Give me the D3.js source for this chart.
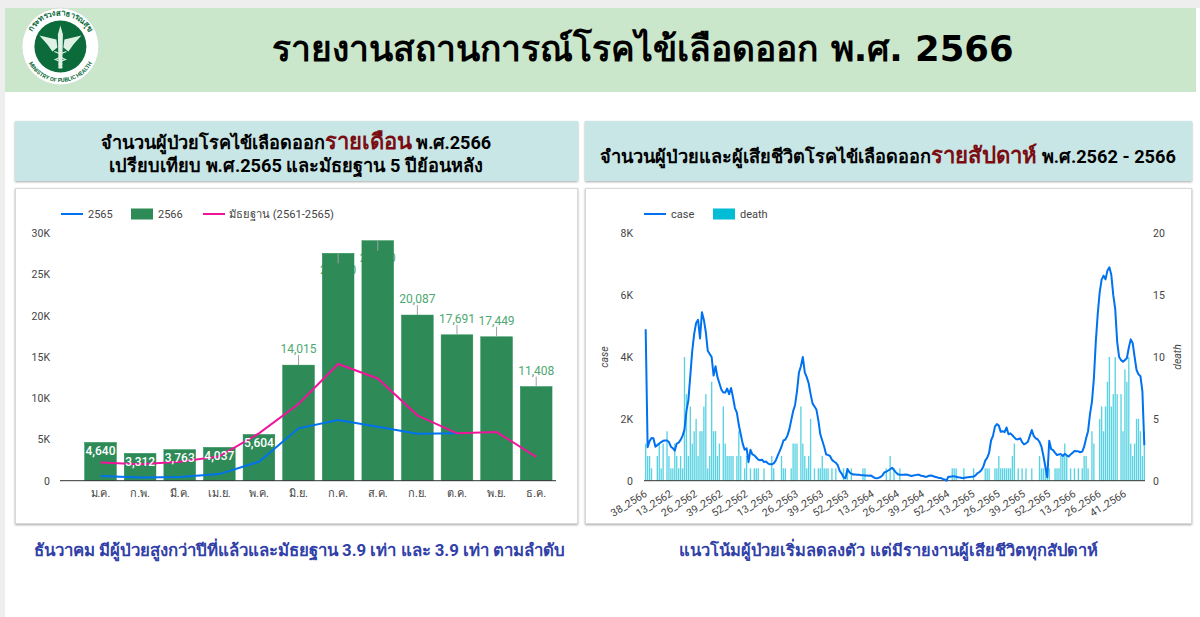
<!DOCTYPE html>
<html>
<head>
<meta charset="utf-8">
<script src="https://cdn.jsdelivr.net/npm/d3@7"></script>
<style>
html,body{margin:0;padding:0;background:#fff;overflow:hidden}
svg{display:block}
text{font-family:Roboto,"Noto Sans",sans-serif}
</style>
</head>
<body>
<div id="canvas"></div>
<script>
// monthly chart
const months = ["ม.ค.","ก.พ.","มี.ค.","เม.ย.","พ.ค.","มิ.ย.","ก.ค.","ส.ค.","ก.ย.","ต.ค.","พ.ย.","ธ.ค."];
const cases2566 = [4640,3312,3763,4037,5604,14015,27570,29100,20087,17691,17449,11408];
const cases2565 = [570,400,450,800,2300,6350,7360,6550,5700,5750,null,null];
const median = [2220,1980,2300,2950,5740,9300,14150,12400,7930,5740,5900,2900];
const monthTicks = [0,5000,10000,15000,20000,25000,30000];

// weekly chart, index 0 is the stray 38_2566 row the source sorts first
const weekCase = [4900,1080,1280,1380,1370,1100,1150,1200,1250,1290,1300,1300,1250,1100,1050,970,1200,1230,1320,1450,
1650,2250,2600,3400,4200,4750,5100,5200,4600,5450,5200,4800,4200,4100,4000,3400,3700,3350,3150,2950,
2850,2850,2980,2800,3000,2700,2350,2200,1800,1500,1200,1000,1050,600,1000,850,820,750,680,660,
680,600,620,560,530,530,560,650,800,950,1100,1300,1330,1450,1650,1950,2250,2450,2900,3500,
3700,4000,3500,3350,3150,2800,2500,2400,2300,1950,1500,1300,1100,850,830,800,680,620,580,500,
320,230,110,80,380,270,230,200,200,190,190,180,180,170,170,160,170,130,90,80,
90,120,170,270,290,330,370,420,340,270,210,190,190,190,200,190,170,150,170,180,
190,190,160,150,130,130,160,170,150,130,110,90,90,60,40,0,130,130,140,140,
130,110,100,90,90,100,110,120,130,130,170,240,280,340,450,650,740,900,1300,1450,
1750,1830,1780,1580,1600,1570,1720,1500,1530,1470,1400,1340,1340,1370,1250,1175,1210,1260,1450,1640,
1450,1370,1340,1250,1100,800,450,110,1290,1020,990,900,830,850,860,800,870,820,780,850,
900,960,950,950,920,940,1100,1370,1600,2150,2550,3300,4500,5400,6100,6500,6630,6510,6800,6900,
6650,6000,5550,4500,4000,3900,3850,3900,3960,4300,4570,4450,4000,3580,3440,3380,2900,1150];
const weekDeath = [3,2,2,1,0,0,2,3,1,3,0,4,2,1,1,3,2,1,2,1,
10,7,2,6,3,4,5,2,4,4,6,7,1,2,8,4,4,2,3,0,
6,3,2,2,2,2,0,2,4,2,0,1,2,0,1,0,1,1,1,0,
0,1,0,0,0,2,1,0,0,0,2,1,1,0,0,1,3,3,3,0,
6,3,2,1,2,5,0,1,0,1,1,2,1,1,1,0,1,0,1,0,
0,0,1,0,1,0,1,0,0,0,0,0,1,1,0,0,0,0,0,0,
0,0,0,0,1,0,2,0,1,0,0,1,0,0,0,0,0,0,0,0,
0,0,0,0,0,0,0,0,0,0,0,0,0,0,0,0,0,0,1,1,
1,0,0,0,1,0,0,0,0,1,0,0,0,0,0,1,1,1,0,0,
1,1,2,1,1,1,1,1,1,2,3,0,1,0,1,0,1,0,0,1,
0,0,0,2,1,1,1,1,1,0,0,1,1,1,2,2,3,2,0,1,
0,1,0,1,0,1,2,2,1,0,4,3,0,0,5,6,4,6,8,10,
6,7,10,7,0,7,4,9,8,10,3,2,3,5,5,4,2,4];
// tick labels as printed under the axis, one every 13 rows
const weekTickIndex = [0,13,26,39,52,65,78,91,104,117,130,143,156,169,182,195,208,221,234,247];
const weekTickLabel = ["38_2566","13_2562","26_2562","39_2562","52_2562","13_2563","26_2563","39_2563","52_2563","13_2564","26_2564","39_2564","52_2564","13_2565","26_2565","39_2565","52_2565","13_2566","26_2566","41_2566"];
const caseTicks = [0,2000,4000,6000,8000];
const deathTicks = [0,5,10,15,20];

const thai = 'Roboto,"Noto Sans",sans-serif';
const titleFont = '"DejaVu Sans",Roboto,sans-serif';
const fmtK = d => d === 0 ? "0" : (d / 1000) + "K";
const fmtN = d3.format(",");

const svg = d3.select("#canvas").append("svg").attr("width",1200).attr("height",617);
const defs = svg.append("defs");
const shadow = defs.append("filter").attr("id","sh").attr("x","-2%").attr("y","-5%").attr("width","104%").attr("height","112%");
shadow.append("feDropShadow").attr("dx",0).attr("dy",1).attr("stdDeviation",1).attr("flood-color","#000").attr("flood-opacity",0.35);

// page
svg.append("rect").attr("width",1200).attr("height",617).attr("fill","#eeeeee");
svg.append("rect").attr("x",5).attr("y",8).attr("width",1195).attr("height",609).attr("fill","#ffffff");
svg.append("rect").attr("x",5).attr("y",8).attr("width",1191).attr("height",84).attr("fill","#cbe7cb");
svg.append("text").attr("x",643).attr("y",60.5).attr("text-anchor","middle").attr("font-size",35.4).attr("font-weight",700)
    .style("font-family",titleFont).attr("fill","#000").text("รายงานสถานการณ์โรคไข้เลือดออก พ.ศ. 2566");

// header boxes
function headBox(x, w) {
    svg.append("rect").attr("x",x).attr("y",121).attr("width",w).attr("height",60).attr("fill","#c8e6e6").attr("filter","url(#sh)");
}
headBox(15,563);
headBox(585,607);
function card(x, w) {
    svg.append("rect").attr("x",x).attr("y",188.5).attr("width",w).attr("height",335).attr("fill","#fff").attr("stroke","#d9d9d9").attr("filter","url(#sh)");
}
card(15.5,562);
card(585.5,606);

const h1 = svg.append("text").attr("x",296).attr("y",149).attr("text-anchor","middle").attr("font-size",18.1).attr("font-weight",700).style("font-family",thai);
h1.append("tspan").text("จำนวนผู้ป่วยโรคไข้เลือดออก");
h1.append("tspan").attr("fill","#7b0d12").attr("font-size",22).text("รายเดือน");
h1.append("tspan").text(" พ.ศ.2566");
svg.append("text").attr("x",296).attr("y",172).attr("text-anchor","middle").attr("font-size",18.2).attr("font-weight",700).style("font-family",thai)
    .text("เปรียบเทียบ พ.ศ.2565 และมัธยฐาน 5 ปีย้อนหลัง");
const h2 = svg.append("text").attr("x",888).attr("y",163).attr("text-anchor","middle").attr("font-size",18.2).attr("font-weight",700).style("font-family",thai);
h2.append("tspan").text("จำนวนผู้ป่วยและผู้เสียชีวิตโรคไข้เลือดออก");
h2.append("tspan").attr("fill","#7b0d12").attr("font-size",22.2).text("รายสัปดาห์");
h2.append("tspan").text(" พ.ศ.2562 - 2566");

svg.append("text").attr("x",299.5).attr("y",556).attr("text-anchor","middle").attr("font-size",16.8).attr("font-weight",700).attr("fill","#3040a8").style("font-family",thai)
    .text("ธันวาคม มีผู้ป่วยสูงกว่าปีที่แล้วและมัธยฐาน 3.9 เท่า และ 3.9 เท่า ตามลำดับ");
svg.append("text").attr("x",888.5).attr("y",556).attr("text-anchor","middle").attr("font-size",16.45).attr("font-weight",700).attr("fill","#3040a8").style("font-family",thai)
    .text("แนวโน้มผู้ป่วยเริ่มลดลงตัว แต่มีรายงานผู้เสียชีวิตทุกสัปดาห์");

// logo, hand drawn approximation
const logo = svg.append("g").attr("transform","translate(60.4,46.5)");
logo.append("circle").attr("r",38.5).attr("fill","#fff").attr("stroke","#cfe3d6");
logo.append("circle").attr("r",26).attr("fill","#0b6b3a");
defs.append("path").attr("id","arcTop").attr("d","M -30 12 A 32 32 0 1 1 30 12");
defs.append("path").attr("id","arcBot").attr("d","M -35 8 A 36 36 0 0 0 35 8");
logo.append("text").attr("font-size",8).attr("font-weight",700).attr("fill","#0b6b3a").style("font-family",thai)
    .append("textPath").attr("href","#arcTop").attr("startOffset","50%").attr("text-anchor","middle").text("กระทรวงสาธารณสุข");
logo.append("text").attr("font-size",5.6).attr("font-weight",700).attr("fill","#0b6b3a")
    .append("textPath").attr("href","#arcBot").attr("startOffset","50%").attr("text-anchor","middle").text("MINISTRY OF PUBLIC HEALTH");
logo.append("path").attr("d","M0 -21 L2.5 -12 L1.8 22 L-1.8 22 L-2.5 -12 Z").attr("fill","#dff0e4");
logo.append("path").attr("d","M-21 -11 L-4 -7 L-3 1 L-8 5 L-13 -2 Z M21 -11 L4 -7 L3 1 L8 5 L13 -2 Z").attr("fill","#dff0e4");
logo.append("path").attr("d","M-6 5 Q6 9 -5 13 Q6 17 -2 21 M6 5 Q-6 9 5 13 Q-6 17 2 21").attr("fill","none").attr("stroke","#dff0e4").attr("stroke-width",1.2);

// --- left chart ---
const x1 = d3.scaleBand().domain(months).range([80.7,556]).paddingInner(0.2).paddingOuter(0.1);
const y1 = d3.scaleLinear().domain([0,30000]).range([480.7,233.3]);
const g1 = svg.append("g");

// July and August labels fall behind their own bars in the source, only the edges show
cases2566.forEach((v,i) => {
    if (i !== 6 && i !== 7) return;
    g1.append("text").attr("x",x1(months[i]) + x1.bandwidth()/2).attr("y",y1(v) + 21).attr("text-anchor","middle").attr("font-size",12).attr("fill","#4da871").text(fmtN(v));
});

g1.selectAll("rect.bar").data(cases2566).enter().append("rect").attr("class","bar")
    .attr("x",(d,i) => x1(months[i])).attr("y",d => y1(d)).attr("width",x1.bandwidth()).attr("height",d => y1(0) - y1(d))
    .attr("fill","#2e8b57").attr("stroke","#1f8a50").attr("stroke-width",0.5);

const ya = g1.append("g").attr("transform","translate(50,0)").call(d3.axisLeft(y1).tickValues(monthTicks).tickFormat(fmtK).tickSize(0).tickPadding(0));
ya.select(".domain").remove();
ya.selectAll("text").attr("font-size",10.5).attr("fill","#444").style("font-family","Roboto");

const xa = g1.append("g").attr("transform","translate(0,480.7)").call(d3.axisBottom(x1).tickSize(0).tickPadding(9));
xa.select(".domain").remove();
xa.selectAll("text").attr("font-size",11).attr("fill","#444").style("font-family",thai);
g1.append("line").attr("x1",60).attr("x2",556).attr("y1",y1(0)).attr("y2",y1(0)).attr("stroke","#333").attr("stroke-width",1);

const line1 = d3.line().defined(d => d !== null).x((d,i) => x1(months[i]) + x1.bandwidth()/2).y(d => y1(d));
g1.append("path").attr("d",line1(cases2565)).attr("fill","none").attr("stroke","#0072f0").attr("stroke-width",2);
g1.append("path").attr("d",line1(median)).attr("fill","none").attr("stroke","#f0149b").attr("stroke-width",2);

// data labels, the first five sit inside the bar, the rest hang on a leader
cases2566.forEach((v,i) => {
    const cx = x1(months[i]) + x1.bandwidth()/2, top = y1(v);
    if (i < 5) {
        g1.append("text").attr("x",cx).attr("y",top + 12.5).attr("text-anchor","middle").attr("font-size",12).attr("font-weight",500).attr("fill","#fff").text(fmtN(v));
        return;
    }
    const inside = i === 6 || i === 7;
    g1.append("line").attr("x1",cx).attr("x2",cx).attr("y1",top).attr("y2",inside ? top + 10 : top - 10).attr("stroke","#a0a0a0");
    if (!inside) g1.append("text").attr("x",cx).attr("y",top - 12).attr("text-anchor","middle").attr("font-size",12).attr("fill","#4da871").text(fmtN(v));
});

// legend left
const lg1 = svg.append("g").attr("font-size",11).attr("fill","#444");
lg1.append("line").attr("x1",61).attr("x2",83).attr("y1",214).attr("y2",214).attr("stroke","#0072f0").attr("stroke-width",2);
lg1.append("text").attr("x",88).attr("y",218).text("2565");
lg1.append("rect").attr("x",131).attr("y",208.5).attr("width",22).attr("height",11).attr("fill","#2e8b57");
lg1.append("text").attr("x",158).attr("y",218).text("2566");
lg1.append("line").attr("x1",203).attr("x2",225).attr("y1",214).attr("y2",214).attr("stroke","#f0149b").attr("stroke-width",2);
lg1.append("text").attr("x",229).attr("y",218).attr("font-size",11.2).style("font-family",thai).text("มัธยฐาน (2561-2565)");

// --- right chart ---
const weekIndex = d3.range(weekCase.length);
const x2 = d3.scaleBand().domain(weekIndex).range([645,1145]).paddingInner(0.3).paddingOuter(0);
const y2 = d3.scaleLinear().domain([0,8000]).range([480.7,233.3]);
const y3 = d3.scaleLinear().domain([0,20]).range([480.7,233.3]);
const g2 = svg.append("g");
g2.selectAll("rect.death").data(weekDeath).enter().append("rect").attr("class","death")
    .attr("x",(d,i) => x2(i)).attr("y",d => y3(d)).attr("width",x2.bandwidth()).attr("height",d => y3(0) - y3(d))
    .attr("fill","#00bcd4").attr("opacity",0.65);

const ya2 = g2.append("g").attr("transform","translate(633,0)").call(d3.axisLeft(y2).tickValues(caseTicks).tickFormat(fmtK).tickSize(0).tickPadding(0));
ya2.select(".domain").remove();
ya2.selectAll("text").attr("font-size",10.5).attr("fill","#444").style("font-family","Roboto");
const ya3 = g2.append("g").attr("transform","translate(1153,0)").call(d3.axisRight(y3).tickValues(deathTicks).tickSize(0).tickPadding(0));
ya3.select(".domain").remove();
ya3.selectAll("text").attr("font-size",10.5).attr("fill","#444").style("font-family","Roboto");

const xa2 = g2.append("g").attr("transform","translate(0,480.7)").call(
    d3.axisBottom(x2).tickValues(weekTickIndex).tickFormat(d => weekTickLabel[weekTickIndex.indexOf(d)]).tickSize(0).tickPadding(0));
xa2.select(".domain").remove();
xa2.selectAll("text").attr("font-size",10.5).attr("fill","#444").style("font-family","Roboto")
    .attr("text-anchor","end").attr("x",0).attr("y",0).attr("dy",0).attr("transform","translate(2,15) rotate(-32)");
g2.append("line").attr("x1",644).attr("x2",1145).attr("y1",y2(0)).attr("y2",y2(0)).attr("stroke","#333").attr("stroke-width",1);

const line2 = d3.line().x((d,i) => x2(i) + x2.bandwidth()/2).y(d => y2(d));
g2.append("path").attr("d",line2(weekCase)).attr("fill","none").attr("stroke","#0072f0").attr("stroke-width",2).attr("stroke-linejoin","round");

svg.append("text").attr("transform","translate(608,357) rotate(-90)").attr("text-anchor","middle").attr("font-size",10.5).attr("font-style","italic").attr("fill","#444").text("case");
svg.append("text").attr("transform","translate(1181,357) rotate(-90)").attr("text-anchor","middle").attr("font-size",10.5).attr("font-style","italic").attr("fill","#444").text("death");

const lg2 = svg.append("g").attr("font-size",11).attr("fill","#444");
lg2.append("line").attr("x1",644).attr("x2",666).attr("y1",214).attr("y2",214).attr("stroke","#0072f0").attr("stroke-width",2);
lg2.append("text").attr("x",671).attr("y",218).text("case");
lg2.append("rect").attr("x",713).attr("y",208.5).attr("width",22).attr("height",11).attr("fill","#00bcd4");
lg2.append("text").attr("x",740).attr("y",218).text("death");
</script>
</body>
</html>
